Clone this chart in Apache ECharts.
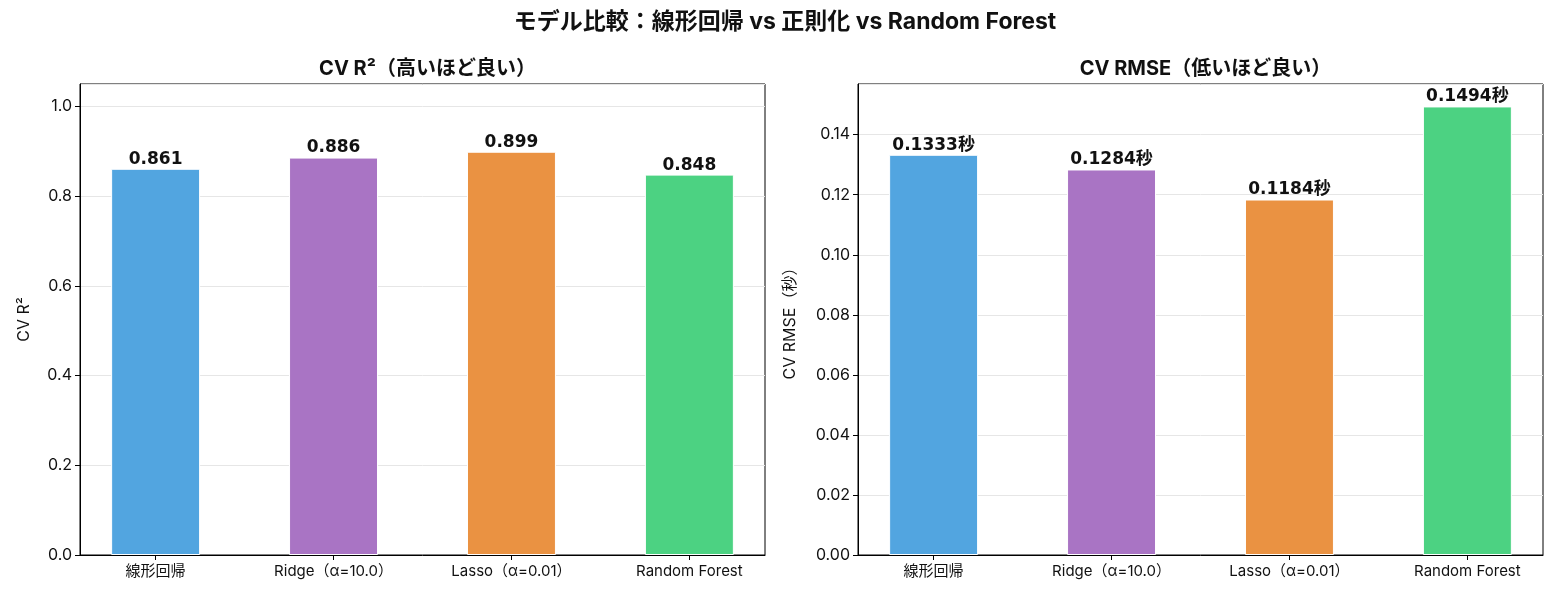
<!DOCTYPE html>
<html>
<head>
<meta charset="utf-8">
<script src="https://cdn.jsdelivr.net/npm/echarts@6/dist/echarts.min.js"></script>
<style>
    html, body { margin: 0; padding: 0; background: #fff; }
    #chart { width: 1560px; height: 600px; }
</style>
</head>
<body>
<div id="chart"></div>
<script>
// models on the x axis
var models = ['線形回帰', 'Ridge（α=10.0）', 'Lasso（α=0.01）', 'Random Forest'];
// CV scores
var cvR2 = [0.861, 0.886, 0.899, 0.848];
var cvRmse = [0.1333, 0.1284, 0.1184, 0.1494];
var barColors = ['#52a5e0', '#a974c4', '#ea9242', '#4cd282'];

var FONT = 'Inter, "Noto Sans CJK JP", sans-serif';
var NUMFONT = '"DejaVu Sans", "Noto Sans CJK JP", sans-serif';

var leftGrid = { left: 80, top: 84, width: 685, height: 471 };
var rightGrid = { left: 858, top: 84, width: 685, height: 471 };

// matplotlib style x range: bars of width 0.5 with margins
var xMin = -0.425, xMax = 3.425;

function toPoints(vals) {
    var pts = [];
    for (var i = 0; i < vals.length; i++) {
        pts.push([i, vals[i]]);
    }
    return pts;
}

function xAxisFor(gridIndex) {
    return {
        gridIndex: gridIndex,
        type: 'value',
        min: xMin,
        max: xMax,
        splitLine: { show: false },
        axisLine: { show: true, onZero: false, lineStyle: { color: '#000', width: 1 } },
        axisTick: { show: true, length: 5, customValues: [0, 1, 2, 3], lineStyle: { color: '#000' } },
        axisLabel: {
            customValues: [0, 1, 2, 3],
            color: '#111',
            fontFamily: FONT,
            fontSize: 15,
            margin: 9,
            formatter: function(v) { return models[Math.round(v)]; }
        }
    };
}

function yAxisFor(gridIndex, opts) {
    return {
        gridIndex: gridIndex,
        type: 'value',
        min: 0,
        max: opts.max,
        interval: opts.interval,
        name: opts.name,
        nameLocation: 'middle',
        nameGap: opts.nameGap,
        nameTextStyle: { color: '#111', fontFamily: FONT, fontSize: 16 },
        axisLine: { show: true, onZero: false, lineStyle: { color: '#000', width: 1 } },
        axisTick: { show: true, length: 5, lineStyle: { color: '#000' } },
        axisLabel: {
            color: '#111',
            fontFamily: FONT,
            fontSize: 16,
            margin: 8,
            showMaxLabel: false,
            formatter: function(v) { return v.toFixed(opts.digits); }
        },
        splitLine: { show: true, lineStyle: { color: '#e6e6e6', width: 1 } }
    };
}

function barSeries(idx, vals, grid, fmt) {
    return {
        type: 'bar',
        xAxisIndex: idx,
        yAxisIndex: idx,
        barWidth: grid.width * 0.5 / (xMax - xMin),
        data: toPoints(vals),
        itemStyle: {
            color: function(p) { return barColors[p.dataIndex]; },
            borderColor: '#ffffff',
            borderWidth: 1
        },
        label: {
            show: true,
            position: 'top',
            distance: 1,
            color: '#111',
            fontFamily: NUMFONT,
            fontWeight: 'bold',
            fontSize: 17,
            formatter: function(p) { return fmt(p.value[1]); }
        }
    };
}

var chart = echarts.init(document.getElementById('chart'));

var option = {
    backgroundColor: '#fff',
    animation: false,
    title: [{
        text: 'モデル比較：線形回帰 vs 正則化 vs Random Forest',
        left: 780, top: 6, textAlign: 'center',
        textStyle: { fontFamily: FONT, fontWeight: 'bold', fontSize: 23, color: '#111' }
    }, {
        text: 'CV R²（高いほど良い）',
        left: leftGrid.left + leftGrid.width / 2, top: 54, textAlign: 'center',
        textStyle: { fontFamily: FONT, fontWeight: 'bold', fontSize: 20, color: '#111' }
    }, {
        text: 'CV RMSE（低いほど良い）',
        left: rightGrid.left + rightGrid.width / 2, top: 54, textAlign: 'center',
        textStyle: { fontFamily: FONT, fontWeight: 'bold', fontSize: 20, color: '#111' }
    }],
    grid: [
        { left: leftGrid.left, top: leftGrid.top, width: leftGrid.width, height: leftGrid.height,
          show: true, borderColor: '#000', borderWidth: 1, backgroundColor: 'transparent' },
        { left: rightGrid.left, top: rightGrid.top, width: rightGrid.width, height: rightGrid.height,
          show: true, borderColor: '#000', borderWidth: 1, backgroundColor: 'transparent' }
    ],
    xAxis: [xAxisFor(0), xAxisFor(1)],
    yAxis: [
        yAxisFor(0, { max: 1.05, interval: 0.2, digits: 1, name: 'CV R²', nameGap: 48 }),
        yAxisFor(1, { max: 0.1494 * 1.05, interval: 0.02, digits: 2, name: 'CV RMSE（秒）', nameGap: 60 })
    ],
    series: [
        barSeries(0, cvR2, leftGrid, function(v) { return v.toFixed(3); }),
        barSeries(1, cvRmse, rightGrid, function(v) { return v.toFixed(4) + '秒'; })
    ]
};

chart.setOption(option);
</script>
</body>
</html>
